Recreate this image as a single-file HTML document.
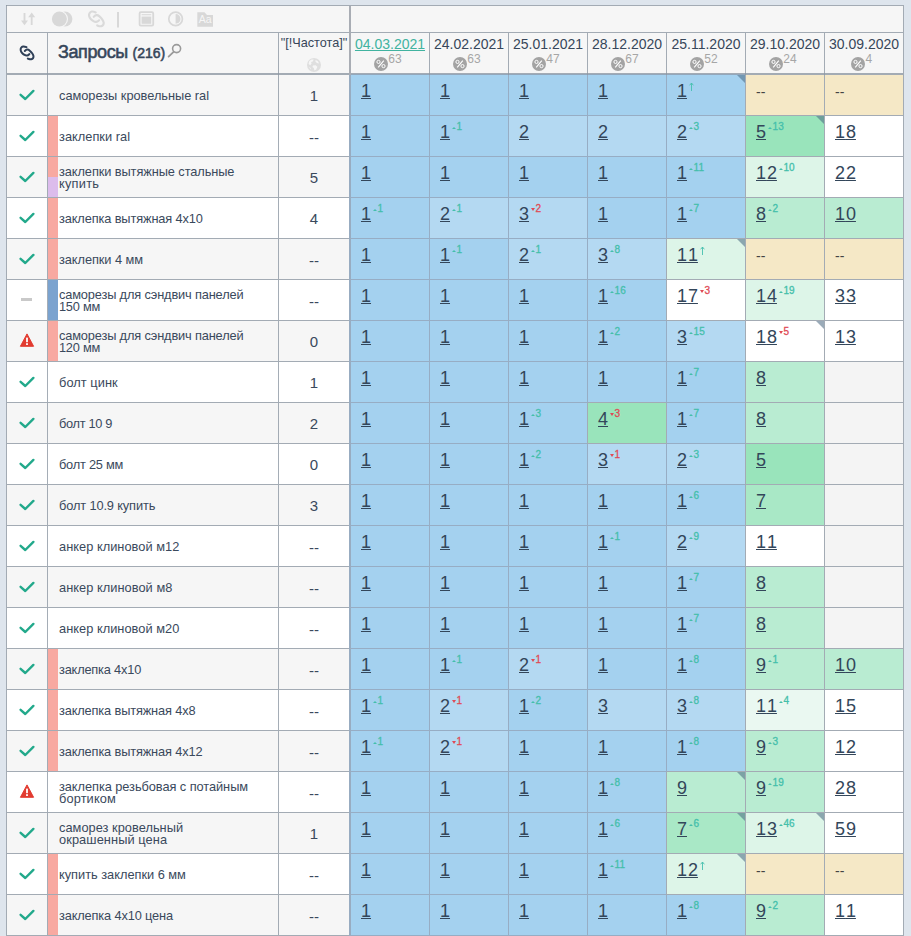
<!DOCTYPE html><html><head><meta charset="utf-8"><title>t</title><style>

html,body{margin:0;padding:0}
body{width:911px;height:936px;overflow:hidden;background:#dee5ed;font-family:"Liberation Sans",sans-serif;color:#3a495c;position:relative}
div,span,svg{position:absolute;box-sizing:border-box}
.tb{left:6px;top:5px;width:898px;height:931px;background:#f6f6f6}
.ln{background:rgba(140,150,162,0.78)}
.nm{left:59px;width:216px;font-size:12.8px;line-height:12px;white-space:nowrap;display:flex;align-items:center;height:40px;padding-top:2px}
.fq{left:279px;width:70px;text-align:center;font-size:15px;height:40px;line-height:42px}
.cell{width:78px;height:40px}

.v{left:10px;top:5.5px;font-size:18px;line-height:20px;text-decoration:underline;text-underline-offset:0.5px;text-decoration-thickness:1px;white-space:nowrap;color:#33465a}
.v b{font-weight:normal;letter-spacing:0.9px}
.dd{left:10px;top:7px;font-size:14px;line-height:20px;color:#444}
.dl{font-size:10px;line-height:10px;top:5.8px;white-space:nowrap;letter-spacing:0.1px;-webkit-text-stroke:0.3px currentColor}
.u{color:#44bfab}.d{color:#e04a55}
.tu,.td{display:inline-block;position:static;width:0;height:0;border-left:2.3px solid transparent;border-right:2.3px solid transparent;margin-right:0.7px;vertical-align:0.8px}
.tu{border-bottom:2.7px solid #44bfab}.td{border-top:3px solid #e04a55}
.cr{right:0;top:0;width:0;height:0;border-top:8px solid rgba(75,105,130,0.56);border-left:8px solid transparent}
.dt{font-size:14px;line-height:16px;top:36px;width:78px;text-align:center;white-space:nowrap}
.pc{width:14px;height:14px;border-radius:7px;background:#a3a3a3;top:57px}
.pn{font-size:12px;line-height:12px;top:53px;color:#a6a6a6}

</style></head><body>
<div class="tb"></div>
<div style="left:7px;top:75px;width:342px;height:40px;background:#f6f6f6"></div>
<svg style="left:18px;top:88px" width="18" height="14" viewBox="0 0 18 14"><path d="M2.6 6.8 L7.3 11 L15.4 2.9" fill="none" stroke="#22a98b" stroke-width="2.4" stroke-linecap="round" stroke-linejoin="round"/></svg>
<div class="nm" style="top:75px"><span style="position:static"><span class="nl" id="n0_0" style="position:static;letter-spacing:-0.021px">саморезы кровельные ral</span></span></div>
<div class="fq" style="top:75px">1</div>
<div class="cell" style="left:351px;top:75px;background:#a4d1ef">
<span class="v">1</span>
</div>
<div class="cell" style="left:430px;top:75px;background:#a4d1ef">
<span class="v">1</span>
</div>
<div class="cell" style="left:509px;top:75px;background:#a4d1ef">
<span class="v">1</span>
</div>
<div class="cell" style="left:588px;top:75px;background:#a4d1ef">
<span class="v">1</span>
</div>
<div class="cell" style="left:667px;top:75px;background:#a4d1ef">
<span class="v">1</span>
<svg style="left:21px;top:7px" width="7" height="10" viewBox="0 0 7 10"><path d="M3.5 1 L3.5 9 M1.6 3.3 L3.5 1 L5.4 3.3" fill="none" stroke="#45bfae" stroke-width="0.9"/></svg>
<div class="cr"></div>
</div>
<div class="cell" style="left:746px;top:75px;background:#f5e8c6">
<span class="dd">--</span>
</div>
<div class="cell" style="left:825px;top:75px;background:#f5e8c6">
<span class="dd">--</span>
</div>
<div style="left:7px;top:116px;width:342px;height:40px;background:#ffffff"></div>
<div style="left:48px;top:116px;width:10px;height:40px;background:#f8a9a1"></div>
<svg style="left:18px;top:129px" width="18" height="14" viewBox="0 0 18 14"><path d="M2.6 6.8 L7.3 11 L15.4 2.9" fill="none" stroke="#22a98b" stroke-width="2.4" stroke-linecap="round" stroke-linejoin="round"/></svg>
<div class="nm" style="top:116px"><span style="position:static"><span class="nl" id="n1_0" style="position:static;letter-spacing:0.020px">заклепки ral</span></span></div>
<div class="fq" style="top:117px">--</div>
<div class="cell" style="left:351px;top:116px;background:#a4d1ef">
<span class="v">1</span>
</div>
<div class="cell" style="left:430px;top:116px;background:#a4d1ef">
<span class="v">1</span>
<span class="dl u" style="left:21.8px"><i class="tu"></i>1</span>
</div>
<div class="cell" style="left:509px;top:116px;background:#b4d9f2">
<span class="v">2</span>
</div>
<div class="cell" style="left:588px;top:116px;background:#b4d9f2">
<span class="v">2</span>
</div>
<div class="cell" style="left:667px;top:116px;background:#b4d9f2">
<span class="v">2</span>
<span class="dl u" style="left:21.8px"><i class="tu"></i>3</span>
</div>
<div class="cell" style="left:746px;top:116px;background:#99e4bb">
<span class="v">5</span>
<span class="dl u" style="left:21.8px"><i class="tu"></i>13</span>
<div class="cr"></div>
</div>
<div class="cell" style="left:825px;top:116px;background:#ffffff">
<span class="v"><b>1</b>8</span>
</div>
<div style="left:7px;top:157px;width:342px;height:40px;background:#f6f6f6"></div>
<div style="left:48px;top:157px;width:10px;height:20px;background:#f8a9a1"></div>
<div style="left:48px;top:177px;width:10px;height:20px;background:#dcbcec"></div>
<svg style="left:18px;top:170px" width="18" height="14" viewBox="0 0 18 14"><path d="M2.6 6.8 L7.3 11 L15.4 2.9" fill="none" stroke="#22a98b" stroke-width="2.4" stroke-linecap="round" stroke-linejoin="round"/></svg>
<div class="nm" style="top:157px"><span style="position:static"><span class="nl" id="n2_0" style="position:static;letter-spacing:-0.084px">заклепки вытяжные стальные</span><br><span class="nl" id="n2_1" style="position:static;letter-spacing:0.242px">купить</span></span></div>
<div class="fq" style="top:157px">5</div>
<div class="cell" style="left:351px;top:157px;background:#a4d1ef">
<span class="v">1</span>
</div>
<div class="cell" style="left:430px;top:157px;background:#a4d1ef">
<span class="v">1</span>
</div>
<div class="cell" style="left:509px;top:157px;background:#a4d1ef">
<span class="v">1</span>
</div>
<div class="cell" style="left:588px;top:157px;background:#a4d1ef">
<span class="v">1</span>
</div>
<div class="cell" style="left:667px;top:157px;background:#a4d1ef">
<span class="v">1</span>
<span class="dl u" style="left:21.8px"><i class="tu"></i>11</span>
</div>
<div class="cell" style="left:746px;top:157px;background:#ddf5e8">
<span class="v"><b>1</b>2</span>
<span class="dl u" style="left:32.7px"><i class="tu"></i>10</span>
</div>
<div class="cell" style="left:825px;top:157px;background:#ffffff">
<span class="v"><b>2</b>2</span>
</div>
<div style="left:7px;top:198px;width:342px;height:40px;background:#ffffff"></div>
<div style="left:48px;top:198px;width:10px;height:40px;background:#f8a9a1"></div>
<svg style="left:18px;top:211px" width="18" height="14" viewBox="0 0 18 14"><path d="M2.6 6.8 L7.3 11 L15.4 2.9" fill="none" stroke="#22a98b" stroke-width="2.4" stroke-linecap="round" stroke-linejoin="round"/></svg>
<div class="nm" style="top:198px"><span style="position:static"><span class="nl" id="n3_0" style="position:static;letter-spacing:-0.126px">заклепка вытяжная 4х10</span></span></div>
<div class="fq" style="top:198px">4</div>
<div class="cell" style="left:351px;top:198px;background:#a4d1ef">
<span class="v">1</span>
<span class="dl u" style="left:21.8px"><i class="tu"></i>1</span>
</div>
<div class="cell" style="left:430px;top:198px;background:#b4d9f2">
<span class="v">2</span>
<span class="dl u" style="left:21.8px"><i class="tu"></i>1</span>
</div>
<div class="cell" style="left:509px;top:198px;background:#b4d9f2">
<span class="v">3</span>
<span class="dl d" style="left:21.8px"><i class="td"></i>2</span>
</div>
<div class="cell" style="left:588px;top:198px;background:#a4d1ef">
<span class="v">1</span>
</div>
<div class="cell" style="left:667px;top:198px;background:#a4d1ef">
<span class="v">1</span>
<span class="dl u" style="left:21.8px"><i class="tu"></i>7</span>
</div>
<div class="cell" style="left:746px;top:198px;background:#b9ecd2">
<span class="v">8</span>
<span class="dl u" style="left:21.8px"><i class="tu"></i>2</span>
</div>
<div class="cell" style="left:825px;top:198px;background:#b9ecd2">
<span class="v"><b>1</b>0</span>
</div>
<div style="left:7px;top:239px;width:342px;height:40px;background:#f6f6f6"></div>
<div style="left:48px;top:239px;width:10px;height:40px;background:#f8a9a1"></div>
<svg style="left:18px;top:252px" width="18" height="14" viewBox="0 0 18 14"><path d="M2.6 6.8 L7.3 11 L15.4 2.9" fill="none" stroke="#22a98b" stroke-width="2.4" stroke-linecap="round" stroke-linejoin="round"/></svg>
<div class="nm" style="top:239px"><span style="position:static"><span class="nl" id="n4_0" style="position:static;letter-spacing:-0.070px">заклепки 4 мм</span></span></div>
<div class="fq" style="top:240px">--</div>
<div class="cell" style="left:351px;top:239px;background:#a4d1ef">
<span class="v">1</span>
</div>
<div class="cell" style="left:430px;top:239px;background:#a4d1ef">
<span class="v">1</span>
<span class="dl u" style="left:21.8px"><i class="tu"></i>1</span>
</div>
<div class="cell" style="left:509px;top:239px;background:#b4d9f2">
<span class="v">2</span>
<span class="dl u" style="left:21.8px"><i class="tu"></i>1</span>
</div>
<div class="cell" style="left:588px;top:239px;background:#b4d9f2">
<span class="v">3</span>
<span class="dl u" style="left:21.8px"><i class="tu"></i>8</span>
</div>
<div class="cell" style="left:667px;top:239px;background:#ddf5e8">
<span class="v"><b>1</b>1</span>
<svg style="left:32px;top:7px" width="7" height="10" viewBox="0 0 7 10"><path d="M3.5 1 L3.5 9 M1.6 3.3 L3.5 1 L5.4 3.3" fill="none" stroke="#45bfae" stroke-width="0.9"/></svg>
<div class="cr"></div>
</div>
<div class="cell" style="left:746px;top:239px;background:#f5e8c6">
<span class="dd">--</span>
</div>
<div class="cell" style="left:825px;top:239px;background:#f5e8c6">
<span class="dd">--</span>
</div>
<div style="left:7px;top:280px;width:342px;height:40px;background:#ffffff"></div>
<div style="left:48px;top:280px;width:10px;height:40px;background:#7ba3cf"></div>
<div style="left:21px;top:298px;width:11px;height:3px;background:#c9c9c9"></div>
<div class="nm" style="top:280px"><span style="position:static"><span class="nl" id="n5_0" style="position:static;letter-spacing:-0.155px">саморезы для сэндвич панелей</span><br><span class="nl" id="n5_1" style="position:static;letter-spacing:-0.253px">150 мм</span></span></div>
<div class="fq" style="top:281px">--</div>
<div class="cell" style="left:351px;top:280px;background:#a4d1ef">
<span class="v">1</span>
</div>
<div class="cell" style="left:430px;top:280px;background:#a4d1ef">
<span class="v">1</span>
</div>
<div class="cell" style="left:509px;top:280px;background:#a4d1ef">
<span class="v">1</span>
</div>
<div class="cell" style="left:588px;top:280px;background:#a4d1ef">
<span class="v">1</span>
<span class="dl u" style="left:21.8px"><i class="tu"></i>16</span>
</div>
<div class="cell" style="left:667px;top:280px;background:#ffffff">
<span class="v"><b>1</b>7</span>
<span class="dl d" style="left:32.7px"><i class="td"></i>3</span>
</div>
<div class="cell" style="left:746px;top:280px;background:#ddf5e8">
<span class="v"><b>1</b>4</span>
<span class="dl u" style="left:32.7px"><i class="tu"></i>19</span>
</div>
<div class="cell" style="left:825px;top:280px;background:#ffffff">
<span class="v"><b>3</b>3</span>
</div>
<div style="left:7px;top:321px;width:342px;height:40px;background:#f6f6f6"></div>
<div style="left:48px;top:321px;width:10px;height:40px;background:#f8a9a1"></div>
<svg style="left:19px;top:333px" width="16" height="14" viewBox="0 0 16 14"><path d="M8 0.9 L14.6 13.3 L1.4 13.3 Z" fill="#e23b30" stroke="#e23b30" stroke-width="1" stroke-linejoin="round"/><rect x="7.1" y="4.6" width="1.8" height="4.6" fill="#fff"/><rect x="7.1" y="10.2" width="1.8" height="1.8" fill="#fff"/></svg>
<div class="nm" style="top:321px"><span style="position:static"><span class="nl" id="n6_0" style="position:static;letter-spacing:-0.155px">саморезы для сэндвич панелей</span><br><span class="nl" id="n6_1" style="position:static;letter-spacing:-0.253px">120 мм</span></span></div>
<div class="fq" style="top:321px">0</div>
<div class="cell" style="left:351px;top:321px;background:#a4d1ef">
<span class="v">1</span>
</div>
<div class="cell" style="left:430px;top:321px;background:#a4d1ef">
<span class="v">1</span>
</div>
<div class="cell" style="left:509px;top:321px;background:#a4d1ef">
<span class="v">1</span>
</div>
<div class="cell" style="left:588px;top:321px;background:#a4d1ef">
<span class="v">1</span>
<span class="dl u" style="left:21.8px"><i class="tu"></i>2</span>
</div>
<div class="cell" style="left:667px;top:321px;background:#b4d9f2">
<span class="v">3</span>
<span class="dl u" style="left:21.8px"><i class="tu"></i>15</span>
</div>
<div class="cell" style="left:746px;top:321px;background:#ffffff">
<span class="v"><b>1</b>8</span>
<span class="dl d" style="left:32.7px"><i class="td"></i>5</span>
<div class="cr"></div>
</div>
<div class="cell" style="left:825px;top:321px;background:#ffffff">
<span class="v"><b>1</b>3</span>
</div>
<div style="left:7px;top:362px;width:342px;height:40px;background:#ffffff"></div>
<svg style="left:18px;top:375px" width="18" height="14" viewBox="0 0 18 14"><path d="M2.6 6.8 L7.3 11 L15.4 2.9" fill="none" stroke="#22a98b" stroke-width="2.4" stroke-linecap="round" stroke-linejoin="round"/></svg>
<div class="nm" style="top:362px"><span style="position:static"><span class="nl" id="n7_0" style="position:static;letter-spacing:0.055px">болт цинк</span></span></div>
<div class="fq" style="top:362px">1</div>
<div class="cell" style="left:351px;top:362px;background:#a4d1ef">
<span class="v">1</span>
</div>
<div class="cell" style="left:430px;top:362px;background:#a4d1ef">
<span class="v">1</span>
</div>
<div class="cell" style="left:509px;top:362px;background:#a4d1ef">
<span class="v">1</span>
</div>
<div class="cell" style="left:588px;top:362px;background:#a4d1ef">
<span class="v">1</span>
</div>
<div class="cell" style="left:667px;top:362px;background:#a4d1ef">
<span class="v">1</span>
<span class="dl u" style="left:21.8px"><i class="tu"></i>7</span>
</div>
<div class="cell" style="left:746px;top:362px;background:#b9ecd2">
<span class="v">8</span>
</div>
<div class="cell" style="left:825px;top:362px;background:#f4f4f4">
</div>
<div style="left:7px;top:403px;width:342px;height:40px;background:#f6f6f6"></div>
<svg style="left:18px;top:416px" width="18" height="14" viewBox="0 0 18 14"><path d="M2.6 6.8 L7.3 11 L15.4 2.9" fill="none" stroke="#22a98b" stroke-width="2.4" stroke-linecap="round" stroke-linejoin="round"/></svg>
<div class="nm" style="top:403px"><span style="position:static"><span class="nl" id="n8_0" style="position:static;letter-spacing:-0.319px">болт 10 9</span></span></div>
<div class="fq" style="top:403px">2</div>
<div class="cell" style="left:351px;top:403px;background:#a4d1ef">
<span class="v">1</span>
</div>
<div class="cell" style="left:430px;top:403px;background:#a4d1ef">
<span class="v">1</span>
</div>
<div class="cell" style="left:509px;top:403px;background:#a4d1ef">
<span class="v">1</span>
<span class="dl u" style="left:21.8px"><i class="tu"></i>3</span>
</div>
<div class="cell" style="left:588px;top:403px;background:#99e4bb">
<span class="v">4</span>
<span class="dl d" style="left:21.8px"><i class="td"></i>3</span>
</div>
<div class="cell" style="left:667px;top:403px;background:#a4d1ef">
<span class="v">1</span>
<span class="dl u" style="left:21.8px"><i class="tu"></i>7</span>
</div>
<div class="cell" style="left:746px;top:403px;background:#b9ecd2">
<span class="v">8</span>
</div>
<div class="cell" style="left:825px;top:403px;background:#f4f4f4">
</div>
<div style="left:7px;top:444px;width:342px;height:40px;background:#ffffff"></div>
<svg style="left:18px;top:457px" width="18" height="14" viewBox="0 0 18 14"><path d="M2.6 6.8 L7.3 11 L15.4 2.9" fill="none" stroke="#22a98b" stroke-width="2.4" stroke-linecap="round" stroke-linejoin="round"/></svg>
<div class="nm" style="top:444px"><span style="position:static"><span class="nl" id="n9_0" style="position:static;letter-spacing:-0.234px">болт 25 мм</span></span></div>
<div class="fq" style="top:444px">0</div>
<div class="cell" style="left:351px;top:444px;background:#a4d1ef">
<span class="v">1</span>
</div>
<div class="cell" style="left:430px;top:444px;background:#a4d1ef">
<span class="v">1</span>
</div>
<div class="cell" style="left:509px;top:444px;background:#a4d1ef">
<span class="v">1</span>
<span class="dl u" style="left:21.8px"><i class="tu"></i>2</span>
</div>
<div class="cell" style="left:588px;top:444px;background:#b4d9f2">
<span class="v">3</span>
<span class="dl d" style="left:21.8px"><i class="td"></i>1</span>
</div>
<div class="cell" style="left:667px;top:444px;background:#b4d9f2">
<span class="v">2</span>
<span class="dl u" style="left:21.8px"><i class="tu"></i>3</span>
</div>
<div class="cell" style="left:746px;top:444px;background:#99e4bb">
<span class="v">5</span>
</div>
<div class="cell" style="left:825px;top:444px;background:#f4f4f4">
</div>
<div style="left:7px;top:485px;width:342px;height:40px;background:#f6f6f6"></div>
<svg style="left:18px;top:498px" width="18" height="14" viewBox="0 0 18 14"><path d="M2.6 6.8 L7.3 11 L15.4 2.9" fill="none" stroke="#22a98b" stroke-width="2.4" stroke-linecap="round" stroke-linejoin="round"/></svg>
<div class="nm" style="top:485px"><span style="position:static"><span class="nl" id="n10_0" style="position:static;letter-spacing:-0.129px">болт 10.9 купить</span></span></div>
<div class="fq" style="top:485px">3</div>
<div class="cell" style="left:351px;top:485px;background:#a4d1ef">
<span class="v">1</span>
</div>
<div class="cell" style="left:430px;top:485px;background:#a4d1ef">
<span class="v">1</span>
</div>
<div class="cell" style="left:509px;top:485px;background:#a4d1ef">
<span class="v">1</span>
</div>
<div class="cell" style="left:588px;top:485px;background:#a4d1ef">
<span class="v">1</span>
</div>
<div class="cell" style="left:667px;top:485px;background:#a4d1ef">
<span class="v">1</span>
<span class="dl u" style="left:21.8px"><i class="tu"></i>6</span>
</div>
<div class="cell" style="left:746px;top:485px;background:#a9e8c6">
<span class="v">7</span>
</div>
<div class="cell" style="left:825px;top:485px;background:#f4f4f4">
</div>
<div style="left:7px;top:526px;width:342px;height:40px;background:#ffffff"></div>
<svg style="left:18px;top:539px" width="18" height="14" viewBox="0 0 18 14"><path d="M2.6 6.8 L7.3 11 L15.4 2.9" fill="none" stroke="#22a98b" stroke-width="2.4" stroke-linecap="round" stroke-linejoin="round"/></svg>
<div class="nm" style="top:526px"><span style="position:static"><span class="nl" id="n11_0" style="position:static;letter-spacing:0.030px">анкер клиновой м12</span></span></div>
<div class="fq" style="top:527px">--</div>
<div class="cell" style="left:351px;top:526px;background:#a4d1ef">
<span class="v">1</span>
</div>
<div class="cell" style="left:430px;top:526px;background:#a4d1ef">
<span class="v">1</span>
</div>
<div class="cell" style="left:509px;top:526px;background:#a4d1ef">
<span class="v">1</span>
</div>
<div class="cell" style="left:588px;top:526px;background:#a4d1ef">
<span class="v">1</span>
<span class="dl u" style="left:21.8px"><i class="tu"></i>1</span>
</div>
<div class="cell" style="left:667px;top:526px;background:#b4d9f2">
<span class="v">2</span>
<span class="dl u" style="left:21.8px"><i class="tu"></i>9</span>
</div>
<div class="cell" style="left:746px;top:526px;background:#ffffff">
<span class="v"><b>1</b>1</span>
</div>
<div class="cell" style="left:825px;top:526px;background:#f4f4f4">
</div>
<div style="left:7px;top:567px;width:342px;height:40px;background:#f6f6f6"></div>
<svg style="left:18px;top:580px" width="18" height="14" viewBox="0 0 18 14"><path d="M2.6 6.8 L7.3 11 L15.4 2.9" fill="none" stroke="#22a98b" stroke-width="2.4" stroke-linecap="round" stroke-linejoin="round"/></svg>
<div class="nm" style="top:567px"><span style="position:static"><span class="nl" id="n12_0" style="position:static;letter-spacing:0.044px">анкер клиновой м8</span></span></div>
<div class="fq" style="top:568px">--</div>
<div class="cell" style="left:351px;top:567px;background:#a4d1ef">
<span class="v">1</span>
</div>
<div class="cell" style="left:430px;top:567px;background:#a4d1ef">
<span class="v">1</span>
</div>
<div class="cell" style="left:509px;top:567px;background:#a4d1ef">
<span class="v">1</span>
</div>
<div class="cell" style="left:588px;top:567px;background:#a4d1ef">
<span class="v">1</span>
</div>
<div class="cell" style="left:667px;top:567px;background:#a4d1ef">
<span class="v">1</span>
<span class="dl u" style="left:21.8px"><i class="tu"></i>7</span>
</div>
<div class="cell" style="left:746px;top:567px;background:#b9ecd2">
<span class="v">8</span>
</div>
<div class="cell" style="left:825px;top:567px;background:#f4f4f4">
</div>
<div style="left:7px;top:608px;width:342px;height:40px;background:#ffffff"></div>
<svg style="left:18px;top:621px" width="18" height="14" viewBox="0 0 18 14"><path d="M2.6 6.8 L7.3 11 L15.4 2.9" fill="none" stroke="#22a98b" stroke-width="2.4" stroke-linecap="round" stroke-linejoin="round"/></svg>
<div class="nm" style="top:608px"><span style="position:static"><span class="nl" id="n13_0" style="position:static;letter-spacing:0.030px">анкер клиновой м20</span></span></div>
<div class="fq" style="top:609px">--</div>
<div class="cell" style="left:351px;top:608px;background:#a4d1ef">
<span class="v">1</span>
</div>
<div class="cell" style="left:430px;top:608px;background:#a4d1ef">
<span class="v">1</span>
</div>
<div class="cell" style="left:509px;top:608px;background:#a4d1ef">
<span class="v">1</span>
</div>
<div class="cell" style="left:588px;top:608px;background:#a4d1ef">
<span class="v">1</span>
</div>
<div class="cell" style="left:667px;top:608px;background:#a4d1ef">
<span class="v">1</span>
<span class="dl u" style="left:21.8px"><i class="tu"></i>7</span>
</div>
<div class="cell" style="left:746px;top:608px;background:#b9ecd2">
<span class="v">8</span>
</div>
<div class="cell" style="left:825px;top:608px;background:#f4f4f4">
</div>
<div style="left:7px;top:649px;width:342px;height:40px;background:#f6f6f6"></div>
<div style="left:48px;top:649px;width:10px;height:40px;background:#f8a9a1"></div>
<svg style="left:18px;top:662px" width="18" height="14" viewBox="0 0 18 14"><path d="M2.6 6.8 L7.3 11 L15.4 2.9" fill="none" stroke="#22a98b" stroke-width="2.4" stroke-linecap="round" stroke-linejoin="round"/></svg>
<div class="nm" style="top:649px"><span style="position:static"><span class="nl" id="n14_0" style="position:static;letter-spacing:-0.188px">заклепка 4х10</span></span></div>
<div class="fq" style="top:650px">--</div>
<div class="cell" style="left:351px;top:649px;background:#a4d1ef">
<span class="v">1</span>
</div>
<div class="cell" style="left:430px;top:649px;background:#a4d1ef">
<span class="v">1</span>
<span class="dl u" style="left:21.8px"><i class="tu"></i>1</span>
</div>
<div class="cell" style="left:509px;top:649px;background:#b4d9f2">
<span class="v">2</span>
<span class="dl d" style="left:21.8px"><i class="td"></i>1</span>
</div>
<div class="cell" style="left:588px;top:649px;background:#a4d1ef">
<span class="v">1</span>
</div>
<div class="cell" style="left:667px;top:649px;background:#a4d1ef">
<span class="v">1</span>
<span class="dl u" style="left:21.8px"><i class="tu"></i>8</span>
</div>
<div class="cell" style="left:746px;top:649px;background:#b9ecd2">
<span class="v">9</span>
<span class="dl u" style="left:21.8px"><i class="tu"></i>1</span>
</div>
<div class="cell" style="left:825px;top:649px;background:#b9ecd2">
<span class="v"><b>1</b>0</span>
</div>
<div style="left:7px;top:690px;width:342px;height:40px;background:#ffffff"></div>
<div style="left:48px;top:690px;width:10px;height:40px;background:#f8a9a1"></div>
<svg style="left:18px;top:703px" width="18" height="14" viewBox="0 0 18 14"><path d="M2.6 6.8 L7.3 11 L15.4 2.9" fill="none" stroke="#22a98b" stroke-width="2.4" stroke-linecap="round" stroke-linejoin="round"/></svg>
<div class="nm" style="top:690px"><span style="position:static"><span class="nl" id="n15_0" style="position:static;letter-spacing:-0.145px">заклепка вытяжная 4х8</span></span></div>
<div class="fq" style="top:691px">--</div>
<div class="cell" style="left:351px;top:690px;background:#a4d1ef">
<span class="v">1</span>
<span class="dl u" style="left:21.8px"><i class="tu"></i>1</span>
</div>
<div class="cell" style="left:430px;top:690px;background:#b4d9f2">
<span class="v">2</span>
<span class="dl d" style="left:21.8px"><i class="td"></i>1</span>
</div>
<div class="cell" style="left:509px;top:690px;background:#a4d1ef">
<span class="v">1</span>
<span class="dl u" style="left:21.8px"><i class="tu"></i>2</span>
</div>
<div class="cell" style="left:588px;top:690px;background:#b4d9f2">
<span class="v">3</span>
</div>
<div class="cell" style="left:667px;top:690px;background:#b4d9f2">
<span class="v">3</span>
<span class="dl u" style="left:21.8px"><i class="tu"></i>8</span>
</div>
<div class="cell" style="left:746px;top:690px;background:#eaf8f1">
<span class="v"><b>1</b>1</span>
<span class="dl u" style="left:32.7px"><i class="tu"></i>4</span>
</div>
<div class="cell" style="left:825px;top:690px;background:#ffffff">
<span class="v"><b>1</b>5</span>
</div>
<div style="left:7px;top:731px;width:342px;height:40px;background:#f6f6f6"></div>
<div style="left:48px;top:731px;width:10px;height:40px;background:#f8a9a1"></div>
<svg style="left:18px;top:744px" width="18" height="14" viewBox="0 0 18 14"><path d="M2.6 6.8 L7.3 11 L15.4 2.9" fill="none" stroke="#22a98b" stroke-width="2.4" stroke-linecap="round" stroke-linejoin="round"/></svg>
<div class="nm" style="top:731px"><span style="position:static"><span class="nl" id="n16_0" style="position:static;letter-spacing:-0.144px">заклепка вытяжная 4х12</span></span></div>
<div class="fq" style="top:732px">--</div>
<div class="cell" style="left:351px;top:731px;background:#a4d1ef">
<span class="v">1</span>
<span class="dl u" style="left:21.8px"><i class="tu"></i>1</span>
</div>
<div class="cell" style="left:430px;top:731px;background:#b4d9f2">
<span class="v">2</span>
<span class="dl d" style="left:21.8px"><i class="td"></i>1</span>
</div>
<div class="cell" style="left:509px;top:731px;background:#a4d1ef">
<span class="v">1</span>
</div>
<div class="cell" style="left:588px;top:731px;background:#a4d1ef">
<span class="v">1</span>
</div>
<div class="cell" style="left:667px;top:731px;background:#a4d1ef">
<span class="v">1</span>
<span class="dl u" style="left:21.8px"><i class="tu"></i>8</span>
</div>
<div class="cell" style="left:746px;top:731px;background:#b9ecd2">
<span class="v">9</span>
<span class="dl u" style="left:21.8px"><i class="tu"></i>3</span>
</div>
<div class="cell" style="left:825px;top:731px;background:#ffffff">
<span class="v"><b>1</b>2</span>
</div>
<div style="left:7px;top:772px;width:342px;height:40px;background:#ffffff"></div>
<svg style="left:19px;top:784px" width="16" height="14" viewBox="0 0 16 14"><path d="M8 0.9 L14.6 13.3 L1.4 13.3 Z" fill="#e23b30" stroke="#e23b30" stroke-width="1" stroke-linejoin="round"/><rect x="7.1" y="4.6" width="1.8" height="4.6" fill="#fff"/><rect x="7.1" y="10.2" width="1.8" height="1.8" fill="#fff"/></svg>
<div class="nm" style="top:772px"><span style="position:static"><span class="nl" id="n17_0" style="position:static;letter-spacing:-0.060px">заклепка резьбовая с потайным</span><br><span class="nl" id="n17_1" style="position:static;letter-spacing:0.118px">бортиком</span></span></div>
<div class="fq" style="top:773px">--</div>
<div class="cell" style="left:351px;top:772px;background:#a4d1ef">
<span class="v">1</span>
</div>
<div class="cell" style="left:430px;top:772px;background:#a4d1ef">
<span class="v">1</span>
</div>
<div class="cell" style="left:509px;top:772px;background:#a4d1ef">
<span class="v">1</span>
</div>
<div class="cell" style="left:588px;top:772px;background:#a4d1ef">
<span class="v">1</span>
<span class="dl u" style="left:21.8px"><i class="tu"></i>8</span>
</div>
<div class="cell" style="left:667px;top:772px;background:#b9ecd2">
<span class="v">9</span>
<div class="cr"></div>
</div>
<div class="cell" style="left:746px;top:772px;background:#b9ecd2">
<span class="v">9</span>
<span class="dl u" style="left:21.8px"><i class="tu"></i>19</span>
</div>
<div class="cell" style="left:825px;top:772px;background:#ffffff">
<span class="v"><b>2</b>8</span>
</div>
<div style="left:7px;top:813px;width:342px;height:40px;background:#f6f6f6"></div>
<svg style="left:18px;top:826px" width="18" height="14" viewBox="0 0 18 14"><path d="M2.6 6.8 L7.3 11 L15.4 2.9" fill="none" stroke="#22a98b" stroke-width="2.4" stroke-linecap="round" stroke-linejoin="round"/></svg>
<div class="nm" style="top:813px"><span style="position:static"><span class="nl" id="n18_0" style="position:static;letter-spacing:0.031px">саморез кровельный</span><br><span class="nl" id="n18_1" style="position:static;letter-spacing:0.089px">окрашенный цена</span></span></div>
<div class="fq" style="top:813px">1</div>
<div class="cell" style="left:351px;top:813px;background:#a4d1ef">
<span class="v">1</span>
</div>
<div class="cell" style="left:430px;top:813px;background:#a4d1ef">
<span class="v">1</span>
</div>
<div class="cell" style="left:509px;top:813px;background:#a4d1ef">
<span class="v">1</span>
</div>
<div class="cell" style="left:588px;top:813px;background:#a4d1ef">
<span class="v">1</span>
<span class="dl u" style="left:21.8px"><i class="tu"></i>6</span>
</div>
<div class="cell" style="left:667px;top:813px;background:#a9e8c6">
<span class="v">7</span>
<span class="dl u" style="left:21.8px"><i class="tu"></i>6</span>
<div class="cr"></div>
</div>
<div class="cell" style="left:746px;top:813px;background:#ddf5e8">
<span class="v"><b>1</b>3</span>
<span class="dl u" style="left:32.7px"><i class="tu"></i>46</span>
<div class="cr"></div>
</div>
<div class="cell" style="left:825px;top:813px;background:#ffffff">
<span class="v"><b>5</b>9</span>
</div>
<div style="left:7px;top:854px;width:342px;height:40px;background:#ffffff"></div>
<div style="left:48px;top:854px;width:10px;height:40px;background:#f8a9a1"></div>
<svg style="left:18px;top:867px" width="18" height="14" viewBox="0 0 18 14"><path d="M2.6 6.8 L7.3 11 L15.4 2.9" fill="none" stroke="#22a98b" stroke-width="2.4" stroke-linecap="round" stroke-linejoin="round"/></svg>
<div class="nm" style="top:854px"><span style="position:static"><span class="nl" id="n19_0" style="position:static;letter-spacing:-0.011px">купить заклепки 6 мм</span></span></div>
<div class="fq" style="top:855px">--</div>
<div class="cell" style="left:351px;top:854px;background:#a4d1ef">
<span class="v">1</span>
</div>
<div class="cell" style="left:430px;top:854px;background:#a4d1ef">
<span class="v">1</span>
</div>
<div class="cell" style="left:509px;top:854px;background:#a4d1ef">
<span class="v">1</span>
</div>
<div class="cell" style="left:588px;top:854px;background:#a4d1ef">
<span class="v">1</span>
<span class="dl u" style="left:21.8px"><i class="tu"></i>11</span>
</div>
<div class="cell" style="left:667px;top:854px;background:#ddf5e8">
<span class="v"><b>1</b>2</span>
<svg style="left:32px;top:7px" width="7" height="10" viewBox="0 0 7 10"><path d="M3.5 1 L3.5 9 M1.6 3.3 L3.5 1 L5.4 3.3" fill="none" stroke="#45bfae" stroke-width="0.9"/></svg>
<div class="cr"></div>
</div>
<div class="cell" style="left:746px;top:854px;background:#f5e8c6">
<span class="dd">--</span>
</div>
<div class="cell" style="left:825px;top:854px;background:#f5e8c6">
<span class="dd">--</span>
</div>
<div style="left:7px;top:895px;width:342px;height:40px;background:#f6f6f6"></div>
<div style="left:48px;top:895px;width:10px;height:40px;background:#f8a9a1"></div>
<svg style="left:18px;top:908px" width="18" height="14" viewBox="0 0 18 14"><path d="M2.6 6.8 L7.3 11 L15.4 2.9" fill="none" stroke="#22a98b" stroke-width="2.4" stroke-linecap="round" stroke-linejoin="round"/></svg>
<div class="nm" style="top:895px"><span style="position:static"><span class="nl" id="n20_0" style="position:static;letter-spacing:-0.150px">заклепка 4х10 цена</span></span></div>
<div class="fq" style="top:896px">--</div>
<div class="cell" style="left:351px;top:895px;background:#a4d1ef">
<span class="v">1</span>
</div>
<div class="cell" style="left:430px;top:895px;background:#a4d1ef">
<span class="v">1</span>
</div>
<div class="cell" style="left:509px;top:895px;background:#a4d1ef">
<span class="v">1</span>
</div>
<div class="cell" style="left:588px;top:895px;background:#a4d1ef">
<span class="v">1</span>
</div>
<div class="cell" style="left:667px;top:895px;background:#a4d1ef">
<span class="v">1</span>
<span class="dl u" style="left:21.8px"><i class="tu"></i>8</span>
</div>
<div class="cell" style="left:746px;top:895px;background:#b9ecd2">
<span class="v">9</span>
<span class="dl u" style="left:21.8px"><i class="tu"></i>2</span>
</div>
<div class="cell" style="left:825px;top:895px;background:#ffffff">
<span class="v"><b>1</b>1</span>
</div>
<svg style="left:6px;top:5px" width="240" height="28" viewBox="6 5 240 28"><g fill="#d8d8d8" stroke="none"><rect x="23.6" y="13" width="1.8" height="9"/><path d="M21 20.6 L28 20.6 L24.5 25.2 Z"/><rect x="30.8" y="16" width="1.8" height="9"/><path d="M28.2 17.2 L35.2 17.2 L31.7 12.6 Z"/><circle cx="65" cy="19" r="7.4"/><circle cx="59.4" cy="19" r="8.6" fill="#f6f6f6"/><circle cx="59.4" cy="19" r="7.5"/><rect x="117" y="12" width="2" height="15.5"/><path d="M197.3 12.3 L204.5 12.3 L207 15 L213 15 L213 26.7 L197.3 26.7 Z"/></g><g transform="translate(96.35,18.85) scale(1.14) translate(-27.05,-52.85)"><path d="M26.50 47.20 Q24.20 46.20 23.05 46.45 Q21.90 46.70 21.15 47.80 Q20.40 48.90 20.70 50.35 Q21.00 51.80 22.10 52.95 Q23.20 54.10 24.50 54.85 Q25.80 55.60 26.95 55.45 Q28.10 55.30 28.75 54.70 L29.40 54.10 M24.80 51.00 Q26.10 49.70 27.25 49.60 Q28.40 49.50 29.75 50.65 Q31.10 51.80 32.15 53.30 Q33.20 54.80 33.45 55.95 Q33.70 57.10 33.05 58.10 Q32.40 59.10 31.25 59.30 Q30.10 59.50 28.95 59.05 L27.80 58.60" fill="none" stroke="#dadada" stroke-width="1.9" stroke-linecap="round" stroke-linejoin="round"/></g><rect x="139.6" y="12.2" width="13.6" height="13.4" rx="1.2" fill="none" stroke="#d8d8d8" stroke-width="1.8"/><rect x="141.6" y="16.6" width="9.6" height="7.2" fill="#d8d8d8"/><rect x="141.6" y="14.2" width="9.6" height="1" fill="#d8d8d8"/><circle cx="175.6" cy="18.9" r="6.8" fill="none" stroke="#d8d8d8" stroke-width="1.7"/><path d="M175.6 14 A4.9 4.9 0 0 1 175.6 23.8 Z" fill="#d8d8d8"/><text x="198.8" y="23.4" font-family="Liberation Sans, sans-serif" font-size="10.5" fill="#f6f6f6">Aa</text></svg>
<svg style="left:16px;top:42px" width="22" height="22" viewBox="16 42 22 22"><path d="M26.50 47.20 Q24.20 46.20 23.05 46.45 Q21.90 46.70 21.15 47.80 Q20.40 48.90 20.70 50.35 Q21.00 51.80 22.10 52.95 Q23.20 54.10 24.50 54.85 Q25.80 55.60 26.95 55.45 Q28.10 55.30 28.75 54.70 L29.40 54.10 M24.80 51.00 Q26.10 49.70 27.25 49.60 Q28.40 49.50 29.75 50.65 Q31.10 51.80 32.15 53.30 Q33.20 54.80 33.45 55.95 Q33.70 57.10 33.05 58.10 Q32.40 59.10 31.25 59.30 Q30.10 59.50 28.95 59.05 L27.80 58.60" fill="none" stroke="#2f4058" stroke-width="2" stroke-linecap="round" stroke-linejoin="round"/></svg>
<div id="ttl" style="left:58px;top:41px;font-size:18px;font-weight:normal;-webkit-text-stroke:0.55px #36465a;line-height:22px;white-space:nowrap;color:#36465a;letter-spacing:-0.38px"><span id="t1" style="position:static">Запросы</span> <span id="t2" style="position:static;font-size:14px;letter-spacing:0">(216)</span></div>
<svg style="left:167px;top:43px" width="16" height="15" viewBox="0 0 16 15"><circle cx="9.6" cy="5.6" r="4" fill="none" stroke="#9a9a9a" stroke-width="1.6"/><path d="M6.6 8.8 L1.6 13.6" stroke="#9a9a9a" stroke-width="1.8" stroke-linecap="round"/></svg>
<div style="left:279px;top:35px;width:70px;text-align:center;font-size:12.7px;line-height:16px;white-space:nowrap;color:#36465a">"[!Частота]"</div>
<svg style="left:306px;top:57px" width="16" height="16" viewBox="0 0 16 16"><circle cx="8" cy="8" r="7" fill="#dfdfdf"/><path d="M3.2 4.2 C4.5 2.6 6.2 2.2 7.6 2.6 L6.8 4.4 L5 5 L5.6 6.6 L4.2 8.2 L2.6 7 Z M9.6 3 L12 4.2 L13 6.6 L11 6 L9.4 4.6 Z M7 8.6 L9.6 8.2 L11.4 9.8 L10.2 12.6 L8.4 13.4 L7.8 11 L6.4 10 Z M3 9.8 L4.8 11 L4.6 12.6 Z" fill="#f6f6f6"/></svg>
<div class="dt" style="left:351px;color:#41b3a0;text-decoration:underline;text-underline-offset:1px;text-decoration-thickness:1px">04.03.2021</div>
<div class="pc" style="left:373.8px"><svg style="left:0;top:0" width="14" height="14" viewBox="0 0 14 14"><path d="M4.2 10.4 L9.8 3.6" stroke="#fff" stroke-width="1.1" fill="none"/><circle cx="4.5" cy="4.9" r="1.6" fill="none" stroke="#fff" stroke-width="1"/><circle cx="9.5" cy="9.1" r="1.6" fill="none" stroke="#fff" stroke-width="1"/></svg></div>
<div class="pn" style="left:388.3px">63</div>
<div class="dt" style="left:430px;color:#36465a">24.02.2021</div>
<div class="pc" style="left:452.8px"><svg style="left:0;top:0" width="14" height="14" viewBox="0 0 14 14"><path d="M4.2 10.4 L9.8 3.6" stroke="#fff" stroke-width="1.1" fill="none"/><circle cx="4.5" cy="4.9" r="1.6" fill="none" stroke="#fff" stroke-width="1"/><circle cx="9.5" cy="9.1" r="1.6" fill="none" stroke="#fff" stroke-width="1"/></svg></div>
<div class="pn" style="left:467.3px">63</div>
<div class="dt" style="left:509px;color:#36465a">25.01.2021</div>
<div class="pc" style="left:531.8px"><svg style="left:0;top:0" width="14" height="14" viewBox="0 0 14 14"><path d="M4.2 10.4 L9.8 3.6" stroke="#fff" stroke-width="1.1" fill="none"/><circle cx="4.5" cy="4.9" r="1.6" fill="none" stroke="#fff" stroke-width="1"/><circle cx="9.5" cy="9.1" r="1.6" fill="none" stroke="#fff" stroke-width="1"/></svg></div>
<div class="pn" style="left:546.3px">47</div>
<div class="dt" style="left:588px;color:#36465a">28.12.2020</div>
<div class="pc" style="left:610.8px"><svg style="left:0;top:0" width="14" height="14" viewBox="0 0 14 14"><path d="M4.2 10.4 L9.8 3.6" stroke="#fff" stroke-width="1.1" fill="none"/><circle cx="4.5" cy="4.9" r="1.6" fill="none" stroke="#fff" stroke-width="1"/><circle cx="9.5" cy="9.1" r="1.6" fill="none" stroke="#fff" stroke-width="1"/></svg></div>
<div class="pn" style="left:625.3px">67</div>
<div class="dt" style="left:667px;color:#36465a">25.11.2020</div>
<div class="pc" style="left:689.8px"><svg style="left:0;top:0" width="14" height="14" viewBox="0 0 14 14"><path d="M4.2 10.4 L9.8 3.6" stroke="#fff" stroke-width="1.1" fill="none"/><circle cx="4.5" cy="4.9" r="1.6" fill="none" stroke="#fff" stroke-width="1"/><circle cx="9.5" cy="9.1" r="1.6" fill="none" stroke="#fff" stroke-width="1"/></svg></div>
<div class="pn" style="left:704.3px">52</div>
<div class="dt" style="left:746px;color:#36465a">29.10.2020</div>
<div class="pc" style="left:768.8px"><svg style="left:0;top:0" width="14" height="14" viewBox="0 0 14 14"><path d="M4.2 10.4 L9.8 3.6" stroke="#fff" stroke-width="1.1" fill="none"/><circle cx="4.5" cy="4.9" r="1.6" fill="none" stroke="#fff" stroke-width="1"/><circle cx="9.5" cy="9.1" r="1.6" fill="none" stroke="#fff" stroke-width="1"/></svg></div>
<div class="pn" style="left:783.3px">24</div>
<div class="dt" style="left:825px;color:#36465a">30.09.2020</div>
<div class="pc" style="left:851.1px"><svg style="left:0;top:0" width="14" height="14" viewBox="0 0 14 14"><path d="M4.2 10.4 L9.8 3.6" stroke="#fff" stroke-width="1.1" fill="none"/><circle cx="4.5" cy="4.9" r="1.6" fill="none" stroke="#fff" stroke-width="1"/><circle cx="9.5" cy="9.1" r="1.6" fill="none" stroke="#fff" stroke-width="1"/></svg></div>
<div class="pn" style="left:865.6px">4</div>
<div class="ln" style="left:6px;top:5px;width:898px;height:1px"></div>
<div class="ln" style="left:7px;top:32px;width:342px;height:1px"></div>
<div class="ln" style="left:351px;top:32px;width:552px;height:1px"></div>
<div class="ln" style="left:7px;top:73px;width:342px;height:2px"></div>
<div class="ln" style="left:351px;top:73px;width:552px;height:1px"></div>
<div style="left:351px;top:74px;width:395px;height:1px;background:#93a7bb"></div>
<div class="ln" style="left:746px;top:74px;width:157px;height:1px"></div>
<div class="ln" style="left:7px;top:115px;width:40px;height:1px"></div>
<div class="ln" style="left:48px;top:115px;width:230px;height:1px"></div>
<div class="ln" style="left:279px;top:115px;width:70px;height:1px"></div>
<div style="left:351px;top:115px;width:78px;height:1px;background:#97adc4"></div>
<div style="left:429px;top:75px;width:1px;height:41px;background:#97adc4"></div>
<div style="left:430px;top:115px;width:78px;height:1px;background:#97adc4"></div>
<div style="left:508px;top:75px;width:1px;height:41px;background:#97adc4"></div>
<div style="left:509px;top:115px;width:78px;height:1px;background:#97adc4"></div>
<div style="left:587px;top:75px;width:1px;height:41px;background:#97adc4"></div>
<div style="left:588px;top:115px;width:78px;height:1px;background:#97adc4"></div>
<div style="left:666px;top:75px;width:1px;height:41px;background:#97adc4"></div>
<div style="left:667px;top:115px;width:78px;height:1px;background:#97adc4"></div>
<div style="left:745px;top:75px;width:1px;height:41px;background:rgba(140,150,162,0.78)"></div>
<div style="left:746px;top:115px;width:78px;height:1px;background:rgba(140,150,162,0.78)"></div>
<div style="left:824px;top:75px;width:1px;height:41px;background:rgba(140,150,162,0.78)"></div>
<div style="left:825px;top:115px;width:78px;height:1px;background:rgba(140,150,162,0.78)"></div>
<div class="ln" style="left:7px;top:156px;width:40px;height:1px"></div>
<div class="ln" style="left:48px;top:156px;width:230px;height:1px"></div>
<div class="ln" style="left:279px;top:156px;width:70px;height:1px"></div>
<div style="left:351px;top:156px;width:78px;height:1px;background:#97adc4"></div>
<div style="left:429px;top:116px;width:1px;height:41px;background:#97adc4"></div>
<div style="left:430px;top:156px;width:78px;height:1px;background:#97adc4"></div>
<div style="left:508px;top:116px;width:1px;height:41px;background:#97adc4"></div>
<div style="left:509px;top:156px;width:78px;height:1px;background:#97adc4"></div>
<div style="left:587px;top:116px;width:1px;height:41px;background:#97adc4"></div>
<div style="left:588px;top:156px;width:78px;height:1px;background:#97adc4"></div>
<div style="left:666px;top:116px;width:1px;height:41px;background:#97adc4"></div>
<div style="left:667px;top:156px;width:78px;height:1px;background:#97adc4"></div>
<div style="left:745px;top:116px;width:1px;height:41px;background:rgba(140,150,162,0.78)"></div>
<div style="left:746px;top:156px;width:78px;height:1px;background:rgba(140,150,162,0.78)"></div>
<div style="left:824px;top:116px;width:1px;height:41px;background:rgba(140,150,162,0.78)"></div>
<div style="left:825px;top:156px;width:78px;height:1px;background:rgba(140,150,162,0.78)"></div>
<div class="ln" style="left:7px;top:197px;width:40px;height:1px"></div>
<div class="ln" style="left:48px;top:197px;width:230px;height:1px"></div>
<div class="ln" style="left:279px;top:197px;width:70px;height:1px"></div>
<div style="left:351px;top:197px;width:78px;height:1px;background:#97adc4"></div>
<div style="left:429px;top:157px;width:1px;height:41px;background:#97adc4"></div>
<div style="left:430px;top:197px;width:78px;height:1px;background:#97adc4"></div>
<div style="left:508px;top:157px;width:1px;height:41px;background:#97adc4"></div>
<div style="left:509px;top:197px;width:78px;height:1px;background:#97adc4"></div>
<div style="left:587px;top:157px;width:1px;height:41px;background:#97adc4"></div>
<div style="left:588px;top:197px;width:78px;height:1px;background:#97adc4"></div>
<div style="left:666px;top:157px;width:1px;height:41px;background:#97adc4"></div>
<div style="left:667px;top:197px;width:78px;height:1px;background:#97adc4"></div>
<div style="left:745px;top:157px;width:1px;height:41px;background:rgba(140,150,162,0.78)"></div>
<div style="left:746px;top:197px;width:78px;height:1px;background:rgba(140,150,162,0.78)"></div>
<div style="left:824px;top:157px;width:1px;height:41px;background:rgba(140,150,162,0.78)"></div>
<div style="left:825px;top:197px;width:78px;height:1px;background:rgba(140,150,162,0.78)"></div>
<div class="ln" style="left:7px;top:238px;width:40px;height:1px"></div>
<div class="ln" style="left:48px;top:238px;width:230px;height:1px"></div>
<div class="ln" style="left:279px;top:238px;width:70px;height:1px"></div>
<div style="left:351px;top:238px;width:78px;height:1px;background:#97adc4"></div>
<div style="left:429px;top:198px;width:1px;height:41px;background:#97adc4"></div>
<div style="left:430px;top:238px;width:78px;height:1px;background:#97adc4"></div>
<div style="left:508px;top:198px;width:1px;height:41px;background:#97adc4"></div>
<div style="left:509px;top:238px;width:78px;height:1px;background:#97adc4"></div>
<div style="left:587px;top:198px;width:1px;height:41px;background:#97adc4"></div>
<div style="left:588px;top:238px;width:78px;height:1px;background:#97adc4"></div>
<div style="left:666px;top:198px;width:1px;height:41px;background:#97adc4"></div>
<div style="left:667px;top:238px;width:78px;height:1px;background:rgba(140,150,162,0.78)"></div>
<div style="left:745px;top:198px;width:1px;height:41px;background:rgba(140,150,162,0.78)"></div>
<div style="left:746px;top:238px;width:78px;height:1px;background:rgba(140,150,162,0.78)"></div>
<div style="left:824px;top:198px;width:1px;height:41px;background:rgba(140,150,162,0.78)"></div>
<div style="left:825px;top:238px;width:78px;height:1px;background:rgba(140,150,162,0.78)"></div>
<div class="ln" style="left:7px;top:279px;width:40px;height:1px"></div>
<div class="ln" style="left:48px;top:279px;width:230px;height:1px"></div>
<div class="ln" style="left:279px;top:279px;width:70px;height:1px"></div>
<div style="left:351px;top:279px;width:78px;height:1px;background:#97adc4"></div>
<div style="left:429px;top:239px;width:1px;height:41px;background:#97adc4"></div>
<div style="left:430px;top:279px;width:78px;height:1px;background:#97adc4"></div>
<div style="left:508px;top:239px;width:1px;height:41px;background:#97adc4"></div>
<div style="left:509px;top:279px;width:78px;height:1px;background:#97adc4"></div>
<div style="left:587px;top:239px;width:1px;height:41px;background:#97adc4"></div>
<div style="left:588px;top:279px;width:78px;height:1px;background:#97adc4"></div>
<div style="left:666px;top:239px;width:1px;height:41px;background:rgba(140,150,162,0.78)"></div>
<div style="left:667px;top:279px;width:78px;height:1px;background:rgba(140,150,162,0.78)"></div>
<div style="left:745px;top:239px;width:1px;height:41px;background:rgba(140,150,162,0.78)"></div>
<div style="left:746px;top:279px;width:78px;height:1px;background:rgba(140,150,162,0.78)"></div>
<div style="left:824px;top:239px;width:1px;height:41px;background:rgba(140,150,162,0.78)"></div>
<div style="left:825px;top:279px;width:78px;height:1px;background:rgba(140,150,162,0.78)"></div>
<div class="ln" style="left:7px;top:320px;width:40px;height:1px"></div>
<div class="ln" style="left:48px;top:320px;width:230px;height:1px"></div>
<div class="ln" style="left:279px;top:320px;width:70px;height:1px"></div>
<div style="left:351px;top:320px;width:78px;height:1px;background:#97adc4"></div>
<div style="left:429px;top:280px;width:1px;height:41px;background:#97adc4"></div>
<div style="left:430px;top:320px;width:78px;height:1px;background:#97adc4"></div>
<div style="left:508px;top:280px;width:1px;height:41px;background:#97adc4"></div>
<div style="left:509px;top:320px;width:78px;height:1px;background:#97adc4"></div>
<div style="left:587px;top:280px;width:1px;height:41px;background:#97adc4"></div>
<div style="left:588px;top:320px;width:78px;height:1px;background:#97adc4"></div>
<div style="left:666px;top:280px;width:1px;height:41px;background:rgba(140,150,162,0.78)"></div>
<div style="left:667px;top:320px;width:78px;height:1px;background:rgba(140,150,162,0.78)"></div>
<div style="left:745px;top:280px;width:1px;height:41px;background:rgba(140,150,162,0.78)"></div>
<div style="left:746px;top:320px;width:78px;height:1px;background:rgba(140,150,162,0.78)"></div>
<div style="left:824px;top:280px;width:1px;height:41px;background:rgba(140,150,162,0.78)"></div>
<div style="left:825px;top:320px;width:78px;height:1px;background:rgba(140,150,162,0.78)"></div>
<div class="ln" style="left:7px;top:361px;width:40px;height:1px"></div>
<div class="ln" style="left:48px;top:361px;width:230px;height:1px"></div>
<div class="ln" style="left:279px;top:361px;width:70px;height:1px"></div>
<div style="left:351px;top:361px;width:78px;height:1px;background:#97adc4"></div>
<div style="left:429px;top:321px;width:1px;height:41px;background:#97adc4"></div>
<div style="left:430px;top:361px;width:78px;height:1px;background:#97adc4"></div>
<div style="left:508px;top:321px;width:1px;height:41px;background:#97adc4"></div>
<div style="left:509px;top:361px;width:78px;height:1px;background:#97adc4"></div>
<div style="left:587px;top:321px;width:1px;height:41px;background:#97adc4"></div>
<div style="left:588px;top:361px;width:78px;height:1px;background:#97adc4"></div>
<div style="left:666px;top:321px;width:1px;height:41px;background:#97adc4"></div>
<div style="left:667px;top:361px;width:78px;height:1px;background:#97adc4"></div>
<div style="left:745px;top:321px;width:1px;height:41px;background:rgba(140,150,162,0.78)"></div>
<div style="left:746px;top:361px;width:78px;height:1px;background:rgba(140,150,162,0.78)"></div>
<div style="left:824px;top:321px;width:1px;height:41px;background:rgba(140,150,162,0.78)"></div>
<div style="left:825px;top:361px;width:78px;height:1px;background:rgba(140,150,162,0.78)"></div>
<div class="ln" style="left:7px;top:402px;width:40px;height:1px"></div>
<div class="ln" style="left:48px;top:402px;width:230px;height:1px"></div>
<div class="ln" style="left:279px;top:402px;width:70px;height:1px"></div>
<div style="left:351px;top:402px;width:78px;height:1px;background:#97adc4"></div>
<div style="left:429px;top:362px;width:1px;height:41px;background:#97adc4"></div>
<div style="left:430px;top:402px;width:78px;height:1px;background:#97adc4"></div>
<div style="left:508px;top:362px;width:1px;height:41px;background:#97adc4"></div>
<div style="left:509px;top:402px;width:78px;height:1px;background:#97adc4"></div>
<div style="left:587px;top:362px;width:1px;height:41px;background:#97adc4"></div>
<div style="left:588px;top:402px;width:78px;height:1px;background:rgba(140,150,162,0.78)"></div>
<div style="left:666px;top:362px;width:1px;height:41px;background:#97adc4"></div>
<div style="left:667px;top:402px;width:78px;height:1px;background:#97adc4"></div>
<div style="left:745px;top:362px;width:1px;height:41px;background:rgba(140,150,162,0.78)"></div>
<div style="left:746px;top:402px;width:78px;height:1px;background:rgba(140,150,162,0.78)"></div>
<div style="left:824px;top:362px;width:1px;height:41px;background:rgba(140,150,162,0.78)"></div>
<div style="left:825px;top:402px;width:78px;height:1px;background:rgba(140,150,162,0.78)"></div>
<div class="ln" style="left:7px;top:443px;width:40px;height:1px"></div>
<div class="ln" style="left:48px;top:443px;width:230px;height:1px"></div>
<div class="ln" style="left:279px;top:443px;width:70px;height:1px"></div>
<div style="left:351px;top:443px;width:78px;height:1px;background:#97adc4"></div>
<div style="left:429px;top:403px;width:1px;height:41px;background:#97adc4"></div>
<div style="left:430px;top:443px;width:78px;height:1px;background:#97adc4"></div>
<div style="left:508px;top:403px;width:1px;height:41px;background:#97adc4"></div>
<div style="left:509px;top:443px;width:78px;height:1px;background:#97adc4"></div>
<div style="left:587px;top:403px;width:1px;height:41px;background:rgba(140,150,162,0.78)"></div>
<div style="left:588px;top:443px;width:78px;height:1px;background:rgba(140,150,162,0.78)"></div>
<div style="left:666px;top:403px;width:1px;height:41px;background:rgba(140,150,162,0.78)"></div>
<div style="left:667px;top:443px;width:78px;height:1px;background:#97adc4"></div>
<div style="left:745px;top:403px;width:1px;height:41px;background:rgba(140,150,162,0.78)"></div>
<div style="left:746px;top:443px;width:78px;height:1px;background:rgba(140,150,162,0.78)"></div>
<div style="left:824px;top:403px;width:1px;height:41px;background:rgba(140,150,162,0.78)"></div>
<div style="left:825px;top:443px;width:78px;height:1px;background:rgba(140,150,162,0.78)"></div>
<div class="ln" style="left:7px;top:484px;width:40px;height:1px"></div>
<div class="ln" style="left:48px;top:484px;width:230px;height:1px"></div>
<div class="ln" style="left:279px;top:484px;width:70px;height:1px"></div>
<div style="left:351px;top:484px;width:78px;height:1px;background:#97adc4"></div>
<div style="left:429px;top:444px;width:1px;height:41px;background:#97adc4"></div>
<div style="left:430px;top:484px;width:78px;height:1px;background:#97adc4"></div>
<div style="left:508px;top:444px;width:1px;height:41px;background:#97adc4"></div>
<div style="left:509px;top:484px;width:78px;height:1px;background:#97adc4"></div>
<div style="left:587px;top:444px;width:1px;height:41px;background:#97adc4"></div>
<div style="left:588px;top:484px;width:78px;height:1px;background:#97adc4"></div>
<div style="left:666px;top:444px;width:1px;height:41px;background:#97adc4"></div>
<div style="left:667px;top:484px;width:78px;height:1px;background:#97adc4"></div>
<div style="left:745px;top:444px;width:1px;height:41px;background:rgba(140,150,162,0.78)"></div>
<div style="left:746px;top:484px;width:78px;height:1px;background:rgba(140,150,162,0.78)"></div>
<div style="left:824px;top:444px;width:1px;height:41px;background:rgba(140,150,162,0.78)"></div>
<div style="left:825px;top:484px;width:78px;height:1px;background:rgba(140,150,162,0.78)"></div>
<div class="ln" style="left:7px;top:525px;width:40px;height:1px"></div>
<div class="ln" style="left:48px;top:525px;width:230px;height:1px"></div>
<div class="ln" style="left:279px;top:525px;width:70px;height:1px"></div>
<div style="left:351px;top:525px;width:78px;height:1px;background:#97adc4"></div>
<div style="left:429px;top:485px;width:1px;height:41px;background:#97adc4"></div>
<div style="left:430px;top:525px;width:78px;height:1px;background:#97adc4"></div>
<div style="left:508px;top:485px;width:1px;height:41px;background:#97adc4"></div>
<div style="left:509px;top:525px;width:78px;height:1px;background:#97adc4"></div>
<div style="left:587px;top:485px;width:1px;height:41px;background:#97adc4"></div>
<div style="left:588px;top:525px;width:78px;height:1px;background:#97adc4"></div>
<div style="left:666px;top:485px;width:1px;height:41px;background:#97adc4"></div>
<div style="left:667px;top:525px;width:78px;height:1px;background:#97adc4"></div>
<div style="left:745px;top:485px;width:1px;height:41px;background:rgba(140,150,162,0.78)"></div>
<div style="left:746px;top:525px;width:78px;height:1px;background:rgba(140,150,162,0.78)"></div>
<div style="left:824px;top:485px;width:1px;height:41px;background:rgba(140,150,162,0.78)"></div>
<div style="left:825px;top:525px;width:78px;height:1px;background:rgba(140,150,162,0.78)"></div>
<div class="ln" style="left:7px;top:566px;width:40px;height:1px"></div>
<div class="ln" style="left:48px;top:566px;width:230px;height:1px"></div>
<div class="ln" style="left:279px;top:566px;width:70px;height:1px"></div>
<div style="left:351px;top:566px;width:78px;height:1px;background:#97adc4"></div>
<div style="left:429px;top:526px;width:1px;height:41px;background:#97adc4"></div>
<div style="left:430px;top:566px;width:78px;height:1px;background:#97adc4"></div>
<div style="left:508px;top:526px;width:1px;height:41px;background:#97adc4"></div>
<div style="left:509px;top:566px;width:78px;height:1px;background:#97adc4"></div>
<div style="left:587px;top:526px;width:1px;height:41px;background:#97adc4"></div>
<div style="left:588px;top:566px;width:78px;height:1px;background:#97adc4"></div>
<div style="left:666px;top:526px;width:1px;height:41px;background:#97adc4"></div>
<div style="left:667px;top:566px;width:78px;height:1px;background:#97adc4"></div>
<div style="left:745px;top:526px;width:1px;height:41px;background:rgba(140,150,162,0.78)"></div>
<div style="left:746px;top:566px;width:78px;height:1px;background:rgba(140,150,162,0.78)"></div>
<div style="left:824px;top:526px;width:1px;height:41px;background:rgba(140,150,162,0.78)"></div>
<div style="left:825px;top:566px;width:78px;height:1px;background:rgba(140,150,162,0.78)"></div>
<div class="ln" style="left:7px;top:607px;width:40px;height:1px"></div>
<div class="ln" style="left:48px;top:607px;width:230px;height:1px"></div>
<div class="ln" style="left:279px;top:607px;width:70px;height:1px"></div>
<div style="left:351px;top:607px;width:78px;height:1px;background:#97adc4"></div>
<div style="left:429px;top:567px;width:1px;height:41px;background:#97adc4"></div>
<div style="left:430px;top:607px;width:78px;height:1px;background:#97adc4"></div>
<div style="left:508px;top:567px;width:1px;height:41px;background:#97adc4"></div>
<div style="left:509px;top:607px;width:78px;height:1px;background:#97adc4"></div>
<div style="left:587px;top:567px;width:1px;height:41px;background:#97adc4"></div>
<div style="left:588px;top:607px;width:78px;height:1px;background:#97adc4"></div>
<div style="left:666px;top:567px;width:1px;height:41px;background:#97adc4"></div>
<div style="left:667px;top:607px;width:78px;height:1px;background:#97adc4"></div>
<div style="left:745px;top:567px;width:1px;height:41px;background:rgba(140,150,162,0.78)"></div>
<div style="left:746px;top:607px;width:78px;height:1px;background:rgba(140,150,162,0.78)"></div>
<div style="left:824px;top:567px;width:1px;height:41px;background:rgba(140,150,162,0.78)"></div>
<div style="left:825px;top:607px;width:78px;height:1px;background:rgba(140,150,162,0.78)"></div>
<div class="ln" style="left:7px;top:648px;width:40px;height:1px"></div>
<div class="ln" style="left:48px;top:648px;width:230px;height:1px"></div>
<div class="ln" style="left:279px;top:648px;width:70px;height:1px"></div>
<div style="left:351px;top:648px;width:78px;height:1px;background:#97adc4"></div>
<div style="left:429px;top:608px;width:1px;height:41px;background:#97adc4"></div>
<div style="left:430px;top:648px;width:78px;height:1px;background:#97adc4"></div>
<div style="left:508px;top:608px;width:1px;height:41px;background:#97adc4"></div>
<div style="left:509px;top:648px;width:78px;height:1px;background:#97adc4"></div>
<div style="left:587px;top:608px;width:1px;height:41px;background:#97adc4"></div>
<div style="left:588px;top:648px;width:78px;height:1px;background:#97adc4"></div>
<div style="left:666px;top:608px;width:1px;height:41px;background:#97adc4"></div>
<div style="left:667px;top:648px;width:78px;height:1px;background:#97adc4"></div>
<div style="left:745px;top:608px;width:1px;height:41px;background:rgba(140,150,162,0.78)"></div>
<div style="left:746px;top:648px;width:78px;height:1px;background:rgba(140,150,162,0.78)"></div>
<div style="left:824px;top:608px;width:1px;height:41px;background:rgba(140,150,162,0.78)"></div>
<div style="left:825px;top:648px;width:78px;height:1px;background:rgba(140,150,162,0.78)"></div>
<div class="ln" style="left:7px;top:689px;width:40px;height:1px"></div>
<div class="ln" style="left:48px;top:689px;width:230px;height:1px"></div>
<div class="ln" style="left:279px;top:689px;width:70px;height:1px"></div>
<div style="left:351px;top:689px;width:78px;height:1px;background:#97adc4"></div>
<div style="left:429px;top:649px;width:1px;height:41px;background:#97adc4"></div>
<div style="left:430px;top:689px;width:78px;height:1px;background:#97adc4"></div>
<div style="left:508px;top:649px;width:1px;height:41px;background:#97adc4"></div>
<div style="left:509px;top:689px;width:78px;height:1px;background:#97adc4"></div>
<div style="left:587px;top:649px;width:1px;height:41px;background:#97adc4"></div>
<div style="left:588px;top:689px;width:78px;height:1px;background:#97adc4"></div>
<div style="left:666px;top:649px;width:1px;height:41px;background:#97adc4"></div>
<div style="left:667px;top:689px;width:78px;height:1px;background:#97adc4"></div>
<div style="left:745px;top:649px;width:1px;height:41px;background:rgba(140,150,162,0.78)"></div>
<div style="left:746px;top:689px;width:78px;height:1px;background:rgba(140,150,162,0.78)"></div>
<div style="left:824px;top:649px;width:1px;height:41px;background:rgba(140,150,162,0.78)"></div>
<div style="left:825px;top:689px;width:78px;height:1px;background:rgba(140,150,162,0.78)"></div>
<div class="ln" style="left:7px;top:730px;width:40px;height:1px"></div>
<div class="ln" style="left:48px;top:730px;width:230px;height:1px"></div>
<div class="ln" style="left:279px;top:730px;width:70px;height:1px"></div>
<div style="left:351px;top:730px;width:78px;height:1px;background:#97adc4"></div>
<div style="left:429px;top:690px;width:1px;height:41px;background:#97adc4"></div>
<div style="left:430px;top:730px;width:78px;height:1px;background:#97adc4"></div>
<div style="left:508px;top:690px;width:1px;height:41px;background:#97adc4"></div>
<div style="left:509px;top:730px;width:78px;height:1px;background:#97adc4"></div>
<div style="left:587px;top:690px;width:1px;height:41px;background:#97adc4"></div>
<div style="left:588px;top:730px;width:78px;height:1px;background:#97adc4"></div>
<div style="left:666px;top:690px;width:1px;height:41px;background:#97adc4"></div>
<div style="left:667px;top:730px;width:78px;height:1px;background:#97adc4"></div>
<div style="left:745px;top:690px;width:1px;height:41px;background:rgba(140,150,162,0.78)"></div>
<div style="left:746px;top:730px;width:78px;height:1px;background:rgba(140,150,162,0.78)"></div>
<div style="left:824px;top:690px;width:1px;height:41px;background:rgba(140,150,162,0.78)"></div>
<div style="left:825px;top:730px;width:78px;height:1px;background:rgba(140,150,162,0.78)"></div>
<div class="ln" style="left:7px;top:771px;width:40px;height:1px"></div>
<div class="ln" style="left:48px;top:771px;width:230px;height:1px"></div>
<div class="ln" style="left:279px;top:771px;width:70px;height:1px"></div>
<div style="left:351px;top:771px;width:78px;height:1px;background:#97adc4"></div>
<div style="left:429px;top:731px;width:1px;height:41px;background:#97adc4"></div>
<div style="left:430px;top:771px;width:78px;height:1px;background:#97adc4"></div>
<div style="left:508px;top:731px;width:1px;height:41px;background:#97adc4"></div>
<div style="left:509px;top:771px;width:78px;height:1px;background:#97adc4"></div>
<div style="left:587px;top:731px;width:1px;height:41px;background:#97adc4"></div>
<div style="left:588px;top:771px;width:78px;height:1px;background:#97adc4"></div>
<div style="left:666px;top:731px;width:1px;height:41px;background:#97adc4"></div>
<div style="left:667px;top:771px;width:78px;height:1px;background:rgba(140,150,162,0.78)"></div>
<div style="left:745px;top:731px;width:1px;height:41px;background:rgba(140,150,162,0.78)"></div>
<div style="left:746px;top:771px;width:78px;height:1px;background:rgba(140,150,162,0.78)"></div>
<div style="left:824px;top:731px;width:1px;height:41px;background:rgba(140,150,162,0.78)"></div>
<div style="left:825px;top:771px;width:78px;height:1px;background:rgba(140,150,162,0.78)"></div>
<div class="ln" style="left:7px;top:812px;width:40px;height:1px"></div>
<div class="ln" style="left:48px;top:812px;width:230px;height:1px"></div>
<div class="ln" style="left:279px;top:812px;width:70px;height:1px"></div>
<div style="left:351px;top:812px;width:78px;height:1px;background:#97adc4"></div>
<div style="left:429px;top:772px;width:1px;height:41px;background:#97adc4"></div>
<div style="left:430px;top:812px;width:78px;height:1px;background:#97adc4"></div>
<div style="left:508px;top:772px;width:1px;height:41px;background:#97adc4"></div>
<div style="left:509px;top:812px;width:78px;height:1px;background:#97adc4"></div>
<div style="left:587px;top:772px;width:1px;height:41px;background:#97adc4"></div>
<div style="left:588px;top:812px;width:78px;height:1px;background:#97adc4"></div>
<div style="left:666px;top:772px;width:1px;height:41px;background:rgba(140,150,162,0.78)"></div>
<div style="left:667px;top:812px;width:78px;height:1px;background:rgba(140,150,162,0.78)"></div>
<div style="left:745px;top:772px;width:1px;height:41px;background:rgba(140,150,162,0.78)"></div>
<div style="left:746px;top:812px;width:78px;height:1px;background:rgba(140,150,162,0.78)"></div>
<div style="left:824px;top:772px;width:1px;height:41px;background:rgba(140,150,162,0.78)"></div>
<div style="left:825px;top:812px;width:78px;height:1px;background:rgba(140,150,162,0.78)"></div>
<div class="ln" style="left:7px;top:853px;width:40px;height:1px"></div>
<div class="ln" style="left:48px;top:853px;width:230px;height:1px"></div>
<div class="ln" style="left:279px;top:853px;width:70px;height:1px"></div>
<div style="left:351px;top:853px;width:78px;height:1px;background:#97adc4"></div>
<div style="left:429px;top:813px;width:1px;height:41px;background:#97adc4"></div>
<div style="left:430px;top:853px;width:78px;height:1px;background:#97adc4"></div>
<div style="left:508px;top:813px;width:1px;height:41px;background:#97adc4"></div>
<div style="left:509px;top:853px;width:78px;height:1px;background:#97adc4"></div>
<div style="left:587px;top:813px;width:1px;height:41px;background:#97adc4"></div>
<div style="left:588px;top:853px;width:78px;height:1px;background:#97adc4"></div>
<div style="left:666px;top:813px;width:1px;height:41px;background:rgba(140,150,162,0.78)"></div>
<div style="left:667px;top:853px;width:78px;height:1px;background:rgba(140,150,162,0.78)"></div>
<div style="left:745px;top:813px;width:1px;height:41px;background:rgba(140,150,162,0.78)"></div>
<div style="left:746px;top:853px;width:78px;height:1px;background:rgba(140,150,162,0.78)"></div>
<div style="left:824px;top:813px;width:1px;height:41px;background:rgba(140,150,162,0.78)"></div>
<div style="left:825px;top:853px;width:78px;height:1px;background:rgba(140,150,162,0.78)"></div>
<div class="ln" style="left:7px;top:894px;width:40px;height:1px"></div>
<div class="ln" style="left:48px;top:894px;width:230px;height:1px"></div>
<div class="ln" style="left:279px;top:894px;width:70px;height:1px"></div>
<div style="left:351px;top:894px;width:78px;height:1px;background:#97adc4"></div>
<div style="left:429px;top:854px;width:1px;height:41px;background:#97adc4"></div>
<div style="left:430px;top:894px;width:78px;height:1px;background:#97adc4"></div>
<div style="left:508px;top:854px;width:1px;height:41px;background:#97adc4"></div>
<div style="left:509px;top:894px;width:78px;height:1px;background:#97adc4"></div>
<div style="left:587px;top:854px;width:1px;height:41px;background:#97adc4"></div>
<div style="left:588px;top:894px;width:78px;height:1px;background:#97adc4"></div>
<div style="left:666px;top:854px;width:1px;height:41px;background:rgba(140,150,162,0.78)"></div>
<div style="left:667px;top:894px;width:78px;height:1px;background:rgba(140,150,162,0.78)"></div>
<div style="left:745px;top:854px;width:1px;height:41px;background:rgba(140,150,162,0.78)"></div>
<div style="left:746px;top:894px;width:78px;height:1px;background:rgba(140,150,162,0.78)"></div>
<div style="left:824px;top:854px;width:1px;height:41px;background:rgba(140,150,162,0.78)"></div>
<div style="left:825px;top:894px;width:78px;height:1px;background:rgba(140,150,162,0.78)"></div>
<div class="ln" style="left:7px;top:935px;width:40px;height:1px"></div>
<div class="ln" style="left:48px;top:935px;width:230px;height:1px"></div>
<div class="ln" style="left:279px;top:935px;width:70px;height:1px"></div>
<div style="left:351px;top:935px;width:78px;height:1px;background:#97adc4"></div>
<div style="left:429px;top:895px;width:1px;height:41px;background:#97adc4"></div>
<div style="left:430px;top:935px;width:78px;height:1px;background:#97adc4"></div>
<div style="left:508px;top:895px;width:1px;height:41px;background:#97adc4"></div>
<div style="left:509px;top:935px;width:78px;height:1px;background:#97adc4"></div>
<div style="left:587px;top:895px;width:1px;height:41px;background:#97adc4"></div>
<div style="left:588px;top:935px;width:78px;height:1px;background:#97adc4"></div>
<div style="left:666px;top:895px;width:1px;height:41px;background:#97adc4"></div>
<div style="left:667px;top:935px;width:78px;height:1px;background:#97adc4"></div>
<div style="left:745px;top:895px;width:1px;height:41px;background:rgba(140,150,162,0.78)"></div>
<div style="left:746px;top:935px;width:78px;height:1px;background:rgba(140,150,162,0.78)"></div>
<div style="left:824px;top:895px;width:1px;height:41px;background:rgba(140,150,162,0.78)"></div>
<div style="left:825px;top:935px;width:78px;height:1px;background:rgba(140,150,162,0.78)"></div>
<div class="ln" style="left:6px;top:5px;width:1px;height:931px"></div>
<div class="ln" style="left:903px;top:6px;width:1px;height:930px"></div>
<div style="left:349px;top:6px;width:2px;height:69px;background:#a9adb4"></div>
<div style="left:349px;top:75px;width:2px;height:861px;background:#98acc1"></div>
<div class="ln" style="left:47px;top:33px;width:1px;height:903px"></div>
<div class="ln" style="left:278px;top:33px;width:1px;height:903px"></div>
<div class="ln" style="left:429px;top:33px;width:1px;height:42px"></div>
<div class="ln" style="left:508px;top:33px;width:1px;height:42px"></div>
<div class="ln" style="left:587px;top:33px;width:1px;height:42px"></div>
<div class="ln" style="left:666px;top:33px;width:1px;height:42px"></div>
<div class="ln" style="left:745px;top:33px;width:1px;height:42px"></div>
<div class="ln" style="left:824px;top:33px;width:1px;height:42px"></div>
</body></html>
